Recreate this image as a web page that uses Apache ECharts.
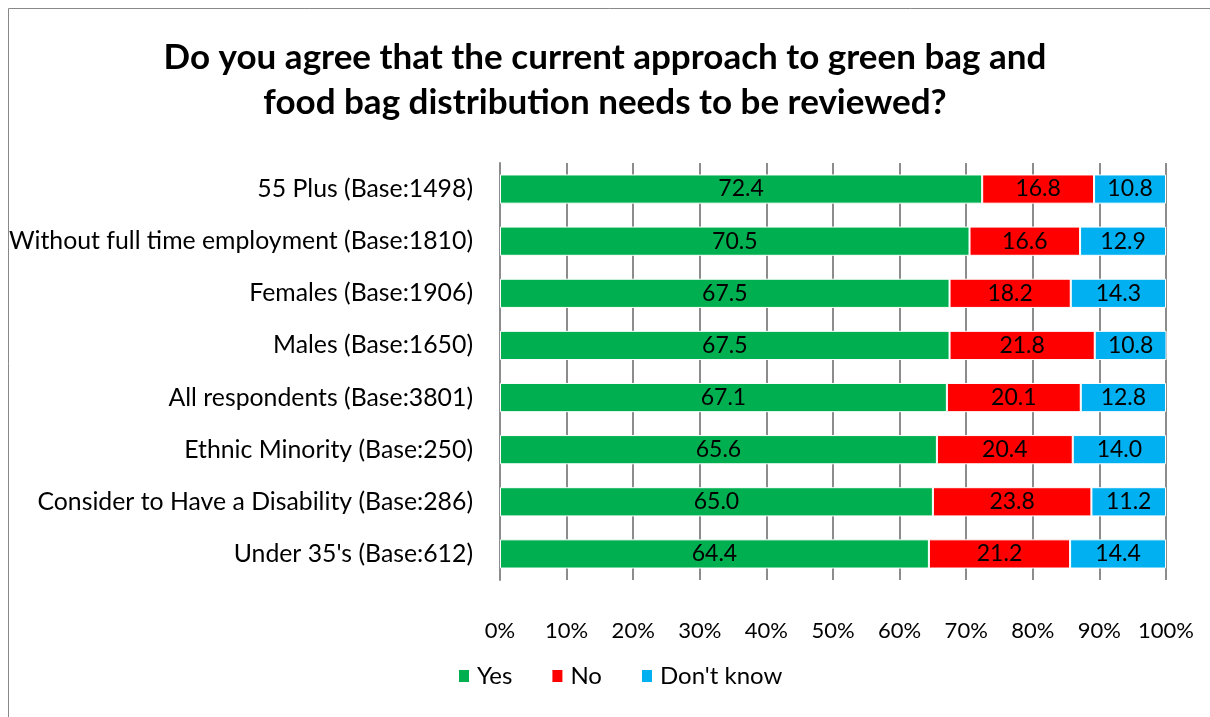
<!DOCTYPE html>
<html><head><meta charset="utf-8">
<script src="https://cdn.jsdelivr.net/npm/echarts@6/dist/echarts.min.js"></script>
<style>html,body{margin:0;padding:0;background:#fff;}#c{width:1210px;height:717px;}</style>
</head><body><div id="c"></div>
<script>
const categories = ["55 Plus (Base:1498)","Without full time employment (Base:1810)","Females (Base:1906)","Males (Base:1650)","All respondents (Base:3801)","Ethnic Minority (Base:250)","Consider to Have a Disability (Base:286)","Under 35's (Base:612)"];
const yesValues = [72.4,70.5,67.5,67.5,67.1,65.6,65.0,64.4];
const noValues = [16.8,16.6,18.2,21.8,20.1,20.4,23.8,21.2];
const dkValues = [10.8,12.9,14.3,10.8,12.8,14.0,11.2,14.4];
const seriesNames = ["Yes","No","Don't know"];
const colors = ["#00B050","#FF0000","#00B0F0"];
const titleLines = ["Do you agree that the current approach to green bag and","food bag distribution needs to be reviewed?"];
const FONT = "Lato";
const chart = echarts.init(document.getElementById('c'), null, {renderer:'canvas'});
const mk = (name, data, i) => ({
  name, type:'bar', stack:'t', data, barWidth:'56%',
  itemStyle:{color:colors[i], borderColor:'#fff', borderWidth:1},
  label:{show:true, position:'inside', color:'#000', fontSize:23, fontFamily:FONT,
    formatter:p=>p.value.toFixed(1)},
  emphasis:{disabled:true}
});
chart.setOption({
  animation:false,
  graphic:[{type:'rect', shape:{x:8.5,y:8.5,width:1300,height:800}, style:{fill:'none',stroke:'#888',lineWidth:1}, silent:true}],
  title:{text:titleLines.join('\n'), left:'center', top:30,
    textStyle:{fontFamily:FONT, fontWeight:'bold', fontSize:35, color:'#000', lineHeight:45}},
  legend:{bottom:24, left:452, itemWidth:12, itemHeight:14, itemGap:38,
    icon:'rect', textStyle:{fontFamily:FONT, fontSize:24, color:'#000', padding:[0,0,0,2]}, data:seriesNames},
  grid:{left:500, right:44, top:163, bottom:137, containLabel:false},
  xAxis:{type:'value', min:0, max:100, interval:10,
    axisLabel:{formatter:'{value}%', fontFamily:FONT, fontSize:22, color:'#000', margin:40},
    axisLine:{show:false}, axisTick:{show:false},
    splitLine:{show:true, lineStyle:{color:'#8c8c8c', width:2}}},
  yAxis:{type:'category', data:categories, inverse:true,
    axisLine:{show:true, lineStyle:{color:'#8c8c8c', width:2}}, axisTick:{show:false},
    axisLabel:{fontFamily:FONT, fontSize:24.8, color:'#000', margin:27}},
  series:[mk(seriesNames[0],yesValues,0), mk(seriesNames[1],noValues,1), mk(seriesNames[2],dkValues,2)]
});
</script></body></html>
